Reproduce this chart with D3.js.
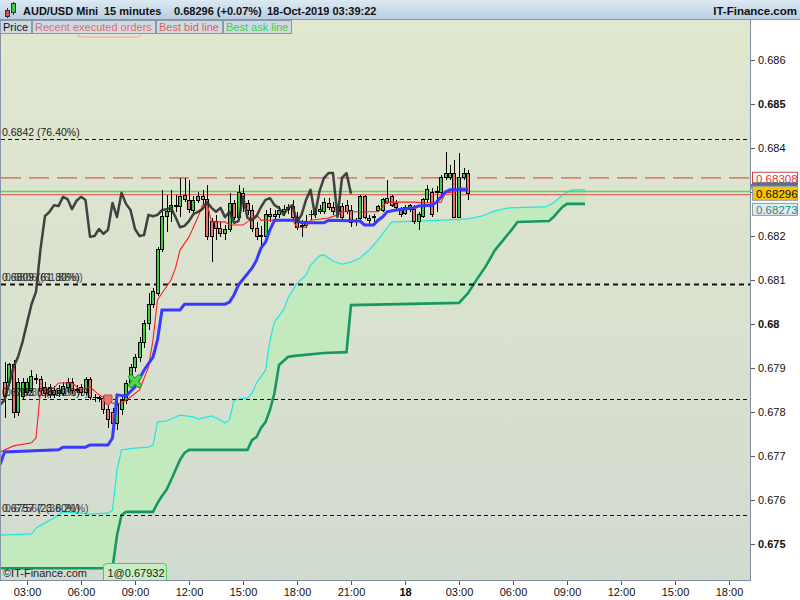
<!DOCTYPE html>
<html>
<head>
<meta charset="utf-8">
<title>AUD/USD Mini 15 minutes</title>
<script src="https://cdn.jsdelivr.net/npm/d3@7"></script>
<style>
  body { margin: 0; background: #fff; }
  svg { display: block; font-family: "Liberation Sans", Arial, sans-serif; }
</style>
</head>
<body>
<svg id="chart" width="800" height="600"></svg>
<script>
// ---- values ----
var dayStart = Date.UTC(2019, 9, 17);   // 17-Oct-2019 00:00 = slot 0, one slot = 15 min
var firstSlot = 7;                       // first candle on screen (01:45)

var opens = [
  0.67868,0.67866,0.67907,0.67800,0.67836,0.67845,0.67850,0.67877,0.67873,0.67855,
  0.67855,0.67839,0.67850,0.67843,0.67855,0.67868,0.67850,0.67855,0.67845,0.67873,
  0.67834,0.67832,0.67830,0.67805,0.67800,0.67775,0.67805,0.67827,0.67864,0.67902,
  0.67925,0.67959,0.68002,0.68045,0.68070,0.68170,0.68245,0.68255,0.68270,0.68268,
  0.68293,0.68280,0.68259,0.68280,0.68289,0.68284,0.68232,0.68232,0.68218,0.68205,
  0.68214,0.68275,0.68243,0.68296,0.68273,0.68259,0.68216,0.68200,0.68200,0.68248,
  0.68245,0.68248,0.68255,0.68261,0.68268,0.68243,0.68223,0.68223,0.68248,0.68248,
  0.68255,0.68255,0.68275,0.68264,0.68255,0.68266,0.68270,0.68259,0.68232,0.68239,
  0.68289,0.68239,0.68241,0.68259,0.68259,0.68277,0.68289,0.68275,0.68259,0.68252,
  0.68261,0.68261,0.68234,0.68245,0.68282,0.68300,0.68300,0.68300,0.68332,0.68332,
  0.68343,0.68243,0.68332,0.68343];
var highs = [
  0.67914,0.67911,0.67918,0.67877,0.67877,0.67877,0.67895,0.67886,0.67882,0.67868,
  0.67864,0.67859,0.67861,0.67868,0.67877,0.67877,0.67861,0.67864,0.67880,0.67880,
  0.67841,0.67836,0.67836,0.67816,0.67809,0.67832,0.67839,0.67873,0.67909,0.67932,
  0.67970,0.68009,0.68070,0.68082,0.68175,0.68305,0.68293,0.68305,0.68293,0.68332,
  0.68332,0.68327,0.68291,0.68300,0.68305,0.68316,0.68241,0.68248,0.68232,0.68225,
  0.68298,0.68282,0.68316,0.68309,0.68282,0.68270,0.68232,0.68223,0.68259,0.68264,
  0.68259,0.68268,0.68270,0.68273,0.68282,0.68255,0.68236,0.68248,0.68259,0.68264,
  0.68270,0.68286,0.68286,0.68277,0.68273,0.68275,0.68282,0.68270,0.68241,0.68293,
  0.68293,0.68248,0.68250,0.68270,0.68286,0.68327,0.68293,0.68282,0.68266,0.68270,
  0.68273,0.68270,0.68255,0.68286,0.68316,0.68309,0.68314,0.68339,0.68391,0.68361,
  0.68373,0.68389,0.68355,0.68350];
var lows = [
  0.67786,0.67859,0.67786,0.67791,0.67827,0.67839,0.67843,0.67864,0.67841,0.67832,
  0.67832,0.67832,0.67834,0.67836,0.67845,0.67841,0.67843,0.67836,0.67839,0.67827,
  0.67823,0.67823,0.67795,0.67764,0.67755,0.67759,0.67793,0.67818,0.67855,0.67891,
  0.67914,0.67945,0.67986,0.68036,0.68064,0.68164,0.68209,0.68232,0.68255,0.68243,
  0.68277,0.68252,0.68252,0.68275,0.68270,0.68191,0.68141,0.68191,0.68198,0.68191,
  0.68209,0.68236,0.68236,0.68255,0.68248,0.68209,0.68191,0.68175,0.68191,0.68232,
  0.68236,0.68241,0.68245,0.68250,0.68236,0.68214,0.68198,0.68218,0.68236,0.68241,
  0.68250,0.68250,0.68259,0.68248,0.68248,0.68236,0.68250,0.68220,0.68223,0.68234,
  0.68239,0.68225,0.68232,0.68255,0.68255,0.68273,0.68266,0.68259,0.68243,0.68248,
  0.68255,0.68227,0.68214,0.68241,0.68275,0.68243,0.68255,0.68293,0.68327,0.68327,
  0.68241,0.68241,0.68327,0.68282];
var closes = [
  0.67836,0.67907,0.67800,0.67868,0.67866,0.67868,0.67880,0.67873,0.67850,0.67841,
  0.67839,0.67850,0.67843,0.67859,0.67868,0.67850,0.67852,0.67845,0.67873,0.67834,
  0.67832,0.67830,0.67805,0.67782,0.67775,0.67816,0.67827,0.67864,0.67902,0.67925,
  0.67959,0.68002,0.68045,0.68073,0.68170,0.68245,0.68255,0.68270,0.68268,0.68289,
  0.68284,0.68261,0.68280,0.68289,0.68282,0.68198,0.68200,0.68216,0.68205,0.68214,
  0.68275,0.68243,0.68298,0.68273,0.68259,0.68216,0.68200,0.68202,0.68248,0.68245,
  0.68248,0.68259,0.68261,0.68264,0.68243,0.68220,0.68223,0.68234,0.68250,0.68255,
  0.68261,0.68277,0.68264,0.68255,0.68264,0.68243,0.68255,0.68230,0.68234,0.68289,
  0.68241,0.68236,0.68245,0.68266,0.68282,0.68286,0.68270,0.68264,0.68248,0.68264,
  0.68270,0.68232,0.68248,0.68282,0.68305,0.68248,0.68302,0.68332,0.68343,0.68343,
  0.68243,0.68332,0.68343,0.68296];

// Ichimoku lines as [slot, price] vertices
var tenkan = [[6,0.67709],[9,0.67723],[13,0.67730],[14,0.67741],[15,0.67850],[18,0.67855],[19,0.67866],
  [22,0.67866],[24,0.67850],[26,0.67857],[28,0.67839],[31,0.67820],[33,0.67820],[35,0.67834],[37,0.67850],
  [39,0.67902],[40,0.67964],[41,0.68055],[42,0.68070],[44,0.68100],[45,0.68127],[46,0.68168],[48,0.68198],
  [50,0.68243],[51,0.68270],[52,0.68275],[53,0.68232],[56,0.68232],[57,0.68225],[60,0.68225],[61,0.68232],
  [63,0.68248],[64,0.68236],[71,0.68236],[72,0.68220],[74,0.68220],[75,0.68236],[79,0.68241],[81,0.68248],
  [82,0.68255],[90,0.68255],[91,0.68266],[92,0.68277],[98,0.68277],[101,0.68275],[104,0.68277],[105,0.68298],
  [107,0.68300],[108,0.68309],[110,0.68309]];
var kijun = [[6,0.67680],[7,0.67709],[19,0.67714],[20,0.67720],[25,0.67720],[26,0.67725],[30,0.67725],
  [31,0.67741],[32,0.67839],[34,0.67836],[36,0.67857],[38,0.67895],[40,0.67925],[41,0.67964],[42,0.68032],
  [46,0.68032],[47,0.68045],[56,0.68045],[57,0.68050],[58,0.68066],[59,0.68089],[62,0.68127],[63,0.68145],
  [64,0.68173],[65,0.68186],[66,0.68214],[67,0.68236],[72,0.68236],[73,0.68230],[78,0.68230],[79,0.68236],
  [86,0.68234],[87,0.68225],[89,0.68225],[90,0.68236],[91,0.68243],[92,0.68255],[94,0.68259],[98,0.68264],
  [99,0.68268],[102,0.68270],[103,0.68277],[105,0.68300],[106,0.68305],[110,0.68305]];
var spanA = [[6,0.67520],[13,0.67523],[14,0.67536],[16,0.67548],[18,0.67559],[19,0.67566],[20,0.67573],
  [24,0.67570],[26,0.67568],[30,0.67570],[31,0.67577],[32,0.67668],[33,0.67714],[36,0.67718],[39,0.67720],
  [40,0.67725],[41,0.67777],[43,0.67780],[44,0.67784],[46,0.67793],[49,0.67789],[50,0.67784],[53,0.67791],
  [55,0.67782],[56,0.67775],[57,0.67782],[58,0.67827],[61,0.67832],[62,0.67843],[63,0.67866],[65,0.67895],
  [66,0.67964],[67,0.68005],[69,0.68032],[70,0.68059],[72,0.68093],[74,0.68111],[75,0.68134],[77,0.68155],
  [78,0.68157],[80,0.68143],[82,0.68136],[84,0.68141],[86,0.68150],[88,0.68168],[90,0.68191],[92,0.68218],
  [93,0.68232],[99,0.68234],[104,0.68236],[110,0.68239],[113,0.68245],[116,0.68257],[119,0.68264],
  [127,0.68266],[129,0.68275],[131,0.68293],[133,0.68305],[136,0.68305]];
var spanB = [[6,0.67445],[31,0.67445],[32,0.67520],[33,0.67566],[34,0.67573],[40,0.67573],[41,0.67593],
  [42,0.67609],[43,0.67623],[44,0.67645],[45,0.67668],[46,0.67691],[47,0.67707],[48,0.67714],[61,0.67714],
  [62,0.67736],[63,0.67743],[64,0.67764],[65,0.67777],[66,0.67805],[67,0.67843],[68,0.67907],[70,0.67925],
  [71,0.67927],[78,0.67934],[83,0.67936],[84,0.68043],[108,0.68048],[110,0.68070],[112,0.68102],
  [114,0.68132],[116,0.68168],[118,0.68193],[120,0.68218],[121,0.68232],[128,0.68234],[129,0.68243],
  [130,0.68255],[131,0.68266],[132,0.68273],[136,0.68273]];
var chikouShift = 26;

var fibPrices = [0.6842, 0.6809, 0.6783, 0.67566];
var fibLabels = ["0.6842 (76.40%)", "0.6809 (61.80%)", "0.6783 (38.20%)", "0.6757 (23.60%)"];
var fibGhosts = ["", "0.6806 (61.86%)", "0.67835 (50.00%)", "0.67567 (38.20%)"];

var ordersLine = 0.68332, askLine = 0.68301, bidLine = 0.68294;
var tagTexts = ["0.68308", "0.68296", "0.68273"];
var lastPrice = 0.68296, spanBLast = 0.68273;
var orders = [{slot: 30, price: 0.67825, side: "sell"}, {slot: 36, price: 0.67870, side: "buy"}];
var orderNote = "1@0.67932";

var yTicks = [0.675, 0.676, 0.677, 0.678, 0.679, 0.68, 0.681, 0.682, 0.683, 0.684, 0.685, 0.686];
var xTickTimes = ["2019-10-17T03:00:00Z","2019-10-17T06:00:00Z","2019-10-17T09:00:00Z","2019-10-17T12:00:00Z",
  "2019-10-17T15:00:00Z","2019-10-17T18:00:00Z","2019-10-17T21:00:00Z","2019-10-18T00:00:00Z",
  "2019-10-18T03:00:00Z","2019-10-18T06:00:00Z","2019-10-18T09:00:00Z","2019-10-18T12:00:00Z",
  "2019-10-18T15:00:00Z","2019-10-18T18:00:00Z"];
var xTickLabels = ["03:00","06:00","09:00","12:00","15:00","18:00","21:00","18",
  "03:00","06:00","09:00","12:00","15:00","18:00"];

var titleParts = ["AUD/USD Mini", "15 minutes", "0.68296 (+0.07%)", "18-Oct-2019 03:39:22"];
var tabs = [["Price", "#111"], ["Recent executed orders", "#e46a6a"], ["Best bid line", "#e05a5a"], ["Best ask line", "#3fcf3f"]];

// ---- layout ----
var svg = d3.select("#chart");
var plotL = 1, plotR = 750, plotT = 20, plotB = 580;

var x = d3.scaleUtc()
  .domain([new Date(dayStart), new Date(dayStart + 864e5)])
  .range([-27, 405]);
var y = d3.scaleLinear().domain([0.675, 0.686]).range([544, 60]);
function slotX(s) { return x(new Date(dayStart + s * 9e5)); }

var defs = svg.append("defs");
var bg = defs.append("linearGradient").attr("id", "bg").attr("x1", 0).attr("y1", 0).attr("x2", 0).attr("y2", 1);
bg.append("stop").attr("offset", "0%").attr("stop-color", "#e1e8cf");
bg.append("stop").attr("offset", "100%").attr("stop-color", "#d2dbcf");
var hd = defs.append("linearGradient").attr("id", "hd").attr("x1", 0).attr("y1", 0).attr("x2", 0).attr("y2", 1);
hd.append("stop").attr("offset", "0%").attr("stop-color", "#dde9f3");
hd.append("stop").attr("offset", "100%").attr("stop-color", "#b7cde0");
defs.append("clipPath").attr("id", "clip").append("rect")
  .attr("x", plotL).attr("y", plotT).attr("width", plotR - plotL).attr("height", plotB - plotT);

svg.append("rect").attr("x", plotL).attr("y", plotT).attr("width", plotR - plotL).attr("height", plotB - plotT)
  .attr("fill", "url(#bg)");

var plot = svg.append("g").attr("clip-path", "url(#clip)");

var line = d3.line().x(function(d) { return slotX(d[0]); }).y(function(d) { return y(d[1]); });

// cloud between the two spans
var cloudPath = line(spanA) + "L" + line(spanB.slice().reverse()).slice(1) + "Z";
plot.append("path").attr("d", cloudPath).attr("fill", "#c3e9be");
plot.append("path").attr("d", line(spanA)).attr("fill", "none").attr("stroke", "#1fe6e6").attr("stroke-width", 1.2);
plot.append("path").attr("d", line(spanB)).attr("fill", "none").attr("stroke", "#16985e").attr("stroke-width", 2.6);

// fibonacci levels
fibPrices.forEach(function(p, i) {
  var yy = Math.round(y(p)) + 0.5;
  plot.append("line").attr("x1", plotL).attr("x2", plotR).attr("y1", yy).attr("y2", yy)
    .attr("stroke", "#111").attr("stroke-width", i === 1 ? 2 : 1)
    .attr("stroke-dasharray", i === 1 ? "5,4" : "4,3");
});

// price lines
plot.append("line").attr("x1", plotL).attr("x2", plotR).attr("y1", y(ordersLine)).attr("y2", y(ordersLine))
  .attr("stroke", "#e03434").attr("stroke-dasharray", "20,8");
plot.append("line").attr("x1", plotL).attr("x2", plotR).attr("y1", y(askLine)).attr("y2", y(askLine))
  .attr("stroke", "#4fdc4f").attr("stroke-width", 1.6);
plot.append("line").attr("x1", plotL).attr("x2", plotR).attr("y1", y(bidLine)).attr("y2", y(bidLine))
  .attr("stroke", "#e06a6a").attr("stroke-width", 1.2);

// candles
var candles = opens.map(function(o, i) {
  return {s: firstSlot + i, o: o, h: highs[i], l: lows[i], c: closes[i]};
});
var cg = plot.append("g").attr("shape-rendering", "crispEdges");
cg.selectAll("line").data(candles).join("line")
  .attr("x1", function(d) { return Math.round(slotX(d.s)); })
  .attr("x2", function(d) { return Math.round(slotX(d.s)); })
  .attr("y1", function(d) { return y(d.h); })
  .attr("y2", function(d) { return y(d.l); })
  .attr("stroke", "#000");
cg.selectAll("rect").data(candles).join("rect")
  .attr("x", function(d) { return Math.round(slotX(d.s)) - 2; })
  .attr("width", 3)
  .attr("y", function(d) { return y(Math.max(d.o, d.c)); })
  .attr("height", function(d) { return Math.max(0.5, Math.abs(y(d.o) - y(d.c))); })
  .attr("fill", function(d) { return d.c >= d.o ? "#3fcc3f" : "#e57474"; })
  .attr("stroke", "#000");

// ichimoku lines
plot.append("path").attr("d", line(tenkan)).attr("fill", "none").attr("stroke", "#ff1e1e").attr("stroke-width", 1.1);
plot.append("path").attr("d", line(kijun)).attr("fill", "none").attr("stroke", "#3a3aff").attr("stroke-width", 3);
var chikou = closes.map(function(c, i) { return [firstSlot + i - chikouShift, c]; });
plot.append("path").attr("d", line(chikou)).attr("fill", "none").attr("stroke", "#333")
  .attr("stroke-width", 2.5).attr("stroke-linejoin", "round").attr("opacity", 0.92);

// executed orders
orders.forEach(function(o) {
  var g = plot.append("g").attr("transform", "translate(" + slotX(o.slot) + "," + y(o.price) + ")");
  if (o.side === "buy") {
    g.append("path").attr("d", "M-4,-4L4,4M4,-4L-4,4").attr("stroke", "#2a9e2a").attr("stroke-width", 5.5).attr("stroke-linecap", "round");
    g.append("path").attr("d", "M-4,-4L4,4M4,-4L-4,4").attr("stroke", "#4fd84f").attr("stroke-width", 3.5).attr("stroke-linecap", "round");
  } else {
    g.append("path").attr("d", "M-4,-6L4,-6L4,0L0,5L-4,0Z").attr("fill", "#ea7676").attr("stroke", "#c04444");
  }
});

// fib labels (two overlapping texts like the original)
fibPrices.forEach(function(p, i) {
  var yy = y(p) - 3;
  [fibLabels[i], fibGhosts[i]].forEach(function(t, k) {
    if (!t) return;
    plot.append("text").attr("x", 2 + k * 3).attr("y", yy).attr("font-size", 10.5)
      .attr("fill", "#222").attr("opacity", k ? 0.8 : 1).text(t);
  });
});

// bottom left texts
plot.append("text").attr("x", 3).attr("y", 577).attr("font-size", 11).attr("fill", "#222").text("\u00a9IT-Finance.com");
var noteX = slotX(29);
plot.append("rect").attr("x", noteX).attr("y", 563.5).attr("width", 63).attr("height", 20).attr("rx", 3)
  .attr("fill", "#c8edc2").attr("stroke", "#4fc94f");
plot.append("text").attr("x", noteX + 4).attr("y", 577).attr("font-size", 11).attr("fill", "#222").text(orderNote);

// axis panels
svg.append("rect").attr("x", plotR).attr("y", plotT).attr("width", 800 - plotR).attr("height", 600 - plotT).attr("fill", "#fff");
svg.append("rect").attr("x", 0).attr("y", plotB).attr("width", 800).attr("height", 20).attr("fill", "#fff");
svg.append("line").attr("x1", plotR + 0.5).attr("x2", plotR + 0.5).attr("y1", plotT).attr("y2", plotB + 1).attr("stroke", "#7d8d9e");
svg.append("line").attr("x1", 0).attr("x2", plotR + 1).attr("y1", plotB + 0.5).attr("y2", plotB + 0.5).attr("stroke", "#7d8d9e");
svg.append("line").attr("x1", 0.5).attr("x2", 0.5).attr("y1", plotT).attr("y2", plotB).attr("stroke", "#8595a6");

var yAxis = svg.append("g").attr("transform", "translate(" + (plotR + 1) + ",0)")
  .call(d3.axisRight(y).tickValues(yTicks).tickSize(4).tickPadding(3).tickFormat(d3.format(".3~f")));
yAxis.select(".domain").remove();
yAxis.selectAll("line").attr("stroke", "#556");
yAxis.selectAll("text").attr("font-family", "Liberation Sans, Arial, sans-serif").attr("font-size", 11).attr("fill", "#111")
  .attr("font-weight", function(d) { return Math.round(d * 1000) % 5 === 0 ? "bold" : "normal"; });

var xAxis = svg.append("g").attr("transform", "translate(0," + (plotB + 1) + ")")
  .call(d3.axisBottom(x).tickValues(xTickTimes.map(function(t) { return new Date(t); }))
    .tickSize(4).tickPadding(3).tickFormat(function(d, i) { return xTickLabels[i]; }));
xAxis.select(".domain").remove();
xAxis.selectAll("line").attr("stroke", "#556");
xAxis.selectAll("text").attr("font-family", "Liberation Sans, Arial, sans-serif").attr("font-size", 11).attr("fill", "#111")
  .attr("font-weight", function(d, i) { return xTickLabels[i].length < 3 ? "bold" : "normal"; });

// little line markers at the price scale
[["#3a3aff", 185], ["#e03434", 187], ["#4fdc4f", 189]].forEach(function(m) {
  svg.append("line").attr("x1", plotR + 1).attr("x2", plotR + 6).attr("y1", m[1]).attr("y2", m[1]).attr("stroke", m[0]).attr("stroke-width", 1.5);
});

// price tags
var yc = y(lastPrice);
svg.append("rect").attr("x", 752.5).attr("y", yc - 21.5).attr("width", 45).attr("height", 12).attr("fill", "#fff").attr("stroke", "#d04444");
svg.append("text").attr("x", 756).attr("y", yc - 11).attr("font-size", 11.5).attr("fill", "#e03434").text(tagTexts[0]);
svg.append("rect").attr("x", 752.5).attr("y", yc - 11.5).attr("width", 45).attr("height", 4).attr("fill", "#5f6f80");
svg.append("rect").attr("x", 752.5).attr("y", yc - 7.5).attr("width", 45).attr("height", 14).attr("fill", "#f6c400").attr("stroke", "#8a9aab");
svg.append("text").attr("x", 756).attr("y", yc + 4).attr("font-size", 11.5).attr("fill", "#111").text(tagTexts[1]);
var yb = Math.max(y(spanBLast), yc + 7);
svg.append("rect").attr("x", 752.5).attr("y", yb - 0.5).attr("width", 45).attr("height", 12).attr("fill", "#e4e9f5").attr("stroke", "#8a9aab");
svg.append("text").attr("x", 756).attr("y", yb + 10).attr("font-size", 11.5).attr("fill", "#14966a").text(tagTexts[2]);

// header bar
svg.append("rect").attr("x", 0).attr("y", 0).attr("width", 800).attr("height", 20).attr("fill", "url(#hd)");
svg.append("line").attr("x1", 0).attr("x2", 800).attr("y1", 19.5).attr("y2", 19.5).attr("stroke", "#8597aa");
var icon = svg.append("g").attr("shape-rendering", "crispEdges");
icon.append("line").attr("x1", 7.5).attr("x2", 7.5).attr("y1", 8).attr("y2", 18).attr("stroke", "#333");
icon.append("rect").attr("x", 5.5).attr("y", 10.5).attr("width", 4).attr("height", 6).attr("fill", "#e05050").attr("stroke", "#333");
icon.append("line").attr("x1", 13.5).attr("x2", 13.5).attr("y1", 2).attr("y2", 15).attr("stroke", "#333");
icon.append("rect").attr("x", 11.5).attr("y", 3.5).attr("width", 4).attr("height", 9).attr("fill", "#3fcc3f").attr("stroke", "#333");
[23, 104, 174, 267].forEach(function(px, i) {
  svg.append("text").attr("x", px).attr("y", 15).attr("font-size", 11).attr("font-weight", "bold")
    .attr("fill", "#111").text(titleParts[i]);
});
svg.append("text").attr("x", 797).attr("y", 15).attr("text-anchor", "end").attr("font-size", 11.5)
  .attr("font-weight", "bold").attr("fill", "#111").text("IT-Finance.com");

// legend tabs
var tabX = 0;
tabs.forEach(function(t) {
  var g = svg.append("g");
  var box = g.append("rect").attr("x", tabX + 0.5).attr("y", 20.5).attr("height", 13)
    .attr("fill", "#cfdae5").attr("stroke", "#8a99aa");
  var tw = g.append("text").attr("x", tabX + 3).attr("y", 31).attr("font-size", 11).attr("fill", t[1]).text(t[0]);
  var w = Math.round(tw.node().getComputedTextLength()) + 6;
  box.attr("width", w);
  tabX += w + 1;
});
svg.append("path").attr("d", "M78,34.5 Q78,37 82,37 L136,37 Q140,37 140,34.5").attr("fill", "none")
  .attr("stroke", "#f3b7b7").attr("stroke-width", 1.5);
</script>
</body>
</html>
